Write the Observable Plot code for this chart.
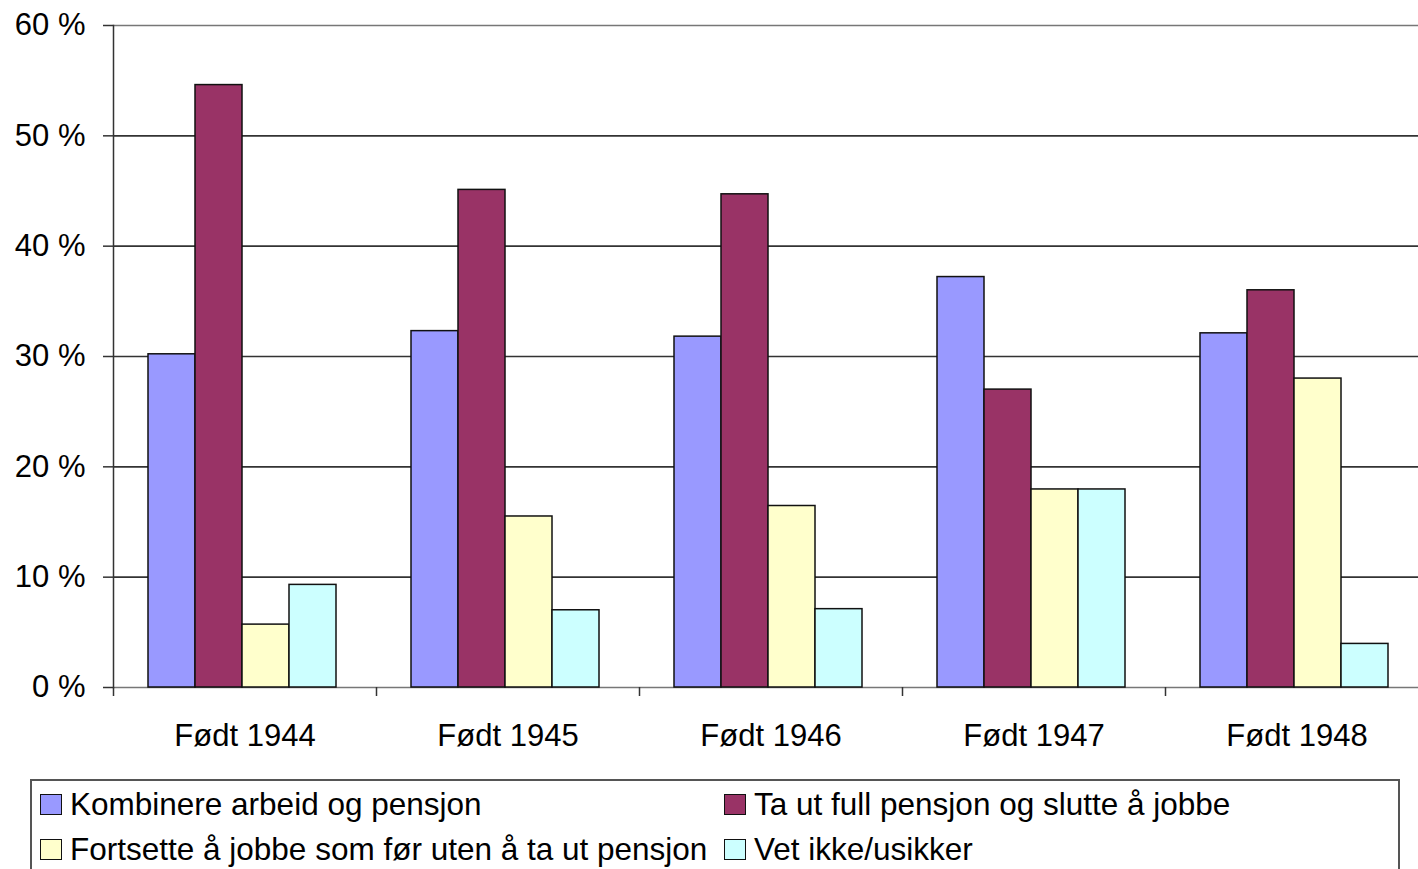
<!DOCTYPE html>
<html><head><meta charset="utf-8">
<script src="https://cdn.jsdelivr.net/npm/d3@7"></script>
<script src="https://cdn.jsdelivr.net/npm/@observablehq/plot@0.6"></script>
<style>
html,body{margin:0;padding:0;background:#fff;overflow:hidden;width:1418px;height:869px;}
body{font-family:"Liberation Sans",Arial,sans-serif;position:relative;}
#chart{position:absolute;left:0;top:0;}
#legend{position:absolute;left:30px;top:779px;width:1370px;height:110px;border:2px solid #555;box-sizing:border-box;background:#fff;}
.item{position:absolute;display:flex;align-items:center;font-size:31.5px;line-height:34px;color:#000;white-space:nowrap;}
.sw{width:22px;height:21px;border:1.5px solid #111;margin-right:8px;box-sizing:border-box;}
</style></head><body>
<div id="chart"></div><div id="legend"></div>
<script>
const categories = ["Født 1944", "Født 1945", "Født 1946", "Født 1947", "Født 1948"];
const seriesNames = ["Kombinere arbeid og pensjon", "Ta ut full pensjon og slutte å jobbe", "Fortsette å jobbe som før uten å ta ut pensjon", "Vet ikke/usikker"];
const kombinere = [30.2, 32.3, 31.8, 37.2, 32.1];
const fullPensjon = [54.6, 45.1, 44.7, 27.0, 36.0];
const fortsette = [5.7, 15.5, 16.45, 17.95, 28.0];
const vetIkke = [9.3, 7.0, 7.1, 17.95, 3.95];
const colors = ["#9999ff", "#993366", "#ffffcc", "#ccffff"];
const yTicks = [0, 10, 20, 30, 40, 50, 60];

const seriesValues = [kombinere, fullPensjon, fortsette, vetIkke];
const rows = categories.flatMap((c, i) => seriesNames.map((s, j) => ({category: c, series: s, value: seriesValues[j][i]})));

const width = 1428, marginLeft = 113, marginRight = 0;
const band = (width - marginLeft - marginRight) / categories.length;
const font = "'Liberation Sans', Arial, sans-serif";

const chart = Plot.plot({
  width, height: 770, marginLeft, marginRight, marginTop: 25, marginBottom: 83,
  style: {fontFamily: font, color: "#000", background: "transparent", overflow: "visible", maxWidth: "none"},
  fx: {domain: categories, padding: 0, label: null, axis: null},
  x: {domain: seriesNames, paddingInner: 0, paddingOuter: 0.75, align: 0.47, axis: null},
  y: {domain: [0, 60], label: null, axis: null},
  color: {domain: seriesNames, range: colors},
  marks: [
    Plot.ruleY(yTicks, {y: d => d, stroke: d => (d === 0 || d === 60) ? "#777" : "#333", strokeWidth: 1.6}),
    Plot.barY(rows, {fx: "category", x: "series", y: "value", fill: "series", stroke: "#111", strokeWidth: 1.5}),
    Plot.frame({anchor: "left", facet: "super", stroke: "#333", strokeWidth: 1.5}),
    Plot.axisY({ticks: yTicks, tickSize: 10, tickPadding: 18, fontSize: 31, tickFormat: d => d + " %", stroke: "#333", strokeWidth: 1.5}),
    Plot.axisFx({anchor: "bottom", tickSize: 9, tickFormat: () => "", dx: -band / 2, stroke: "#333", strokeWidth: 1.5}),
    Plot.axisFx({anchor: "bottom", tickSize: 0, tickPadding: 36, fontSize: 31})
  ]
});
chart.style.maxWidth = "none";
document.getElementById("chart").append(chart);

const legend = document.getElementById("legend");
const legendPos = [[8, 6], [692, 6], [8, 51], [692, 51]];
seriesNames.forEach((name, i) => {
  const item = document.createElement("div");
  item.className = "item";
  item.style.left = legendPos[i][0] + "px";
  item.style.top = legendPos[i][1] + "px";
  const sw = document.createElement("div");
  sw.className = "sw";
  sw.style.background = colors[i];
  const label = document.createElement("span");
  label.textContent = name;
  item.append(sw, label);
  legend.append(item);
});
</script>
</body></html>
